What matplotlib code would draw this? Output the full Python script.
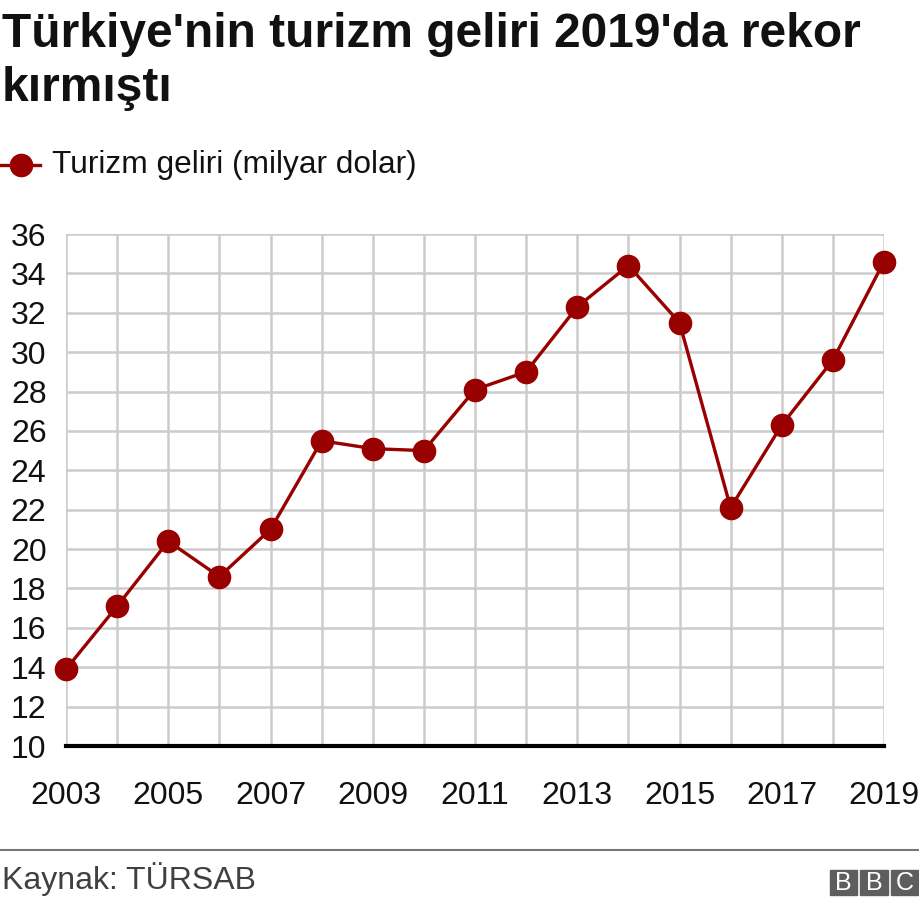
import numpy as np
import matplotlib
matplotlib.use("Agg")
import matplotlib.pyplot as plt
from matplotlib.patches import Rectangle

plt.rcParams['font.family'] = ['Liberation Sans', 'DejaVu Sans']

years = [2003, 2004, 2005, 2006, 2007, 2008, 2009, 2010, 2011,
         2012, 2013, 2014, 2015, 2016, 2017, 2018, 2019]
gelir = [13.9, 17.1, 20.4, 18.6, 21.0, 25.5, 25.1, 25.0, 28.1,
         29.0, 32.3, 34.4, 31.5, 22.1, 26.3, 29.6, 34.6]
yticks = list(range(10, 37, 2))
xlabels = [2003, 2005, 2007, 2009, 2011, 2013, 2015, 2017, 2019]

red = "#990000"
W, H = 920, 906

def fx(px):
    return px / W

def fy(py):
    return 1 - py / H

fig = plt.figure(figsize=(9.2, 9.06), dpi=100)
ax = fig.add_axes([fx(66), fy(746), (884 - 66) / W, (746 - 234) / H])

ax.plot(years, gelir, color=red, lw=2.4, marker='o', ms=16, mec=red, mfc=red,
        zorder=3, clip_on=False)

ax.set_xlim(2003, 2019)
ax.set_ylim(10, 36)
ax.set_xticks(years)
ax.set_xticklabels([str(y) if y in xlabels else "" for y in years])
ax.set_yticks(yticks)
ax.grid(True, color="#cccccc", lw=1.8)
ax.set_axisbelow(True)
for s in ax.spines.values():
    s.set_visible(False)
ax.axhline(10, color="black", lw=3, zorder=2, clip_on=False)
ax.tick_params(length=0, labelsize=23, colors="#111111")
ax.tick_params(axis='y', pad=14)
ax.tick_params(axis='x', pad=25)

# title
fig.text(fx(2), fy(47), "Türkiye'nin turizm geliri 2019'da rekor", fontsize=34.5,
         fontweight='bold', va='baseline', ha='left', color="#111111")
fig.text(fx(2), fy(101), "kırmıştı", fontsize=34.5,
         fontweight='bold', va='baseline', ha='left', color="#111111")

# legend
fig.lines.append(plt.Line2D([fx(0), fx(40)], [fy(165), fy(165)], color=red, lw=2.4,
                            transform=fig.transFigure))
fig.lines.append(plt.Line2D([fx(21)], [fy(165)], color=red, marker='o', ms=16,
                            transform=fig.transFigure))
fig.text(fx(52), fy(165), "Turizm geliri (milyar dolar)", fontsize=22.8, va='center',
         ha='left', color="#111111")

# footer
fig.lines.append(plt.Line2D([0, 1], [fy(850), fy(850)], color="#777777", lw=1.5,
                            transform=fig.transFigure))
fig.text(fx(2), fy(889), "Kaynak: TÜRSAB", fontsize=23, va='baseline', ha='left',
         color="#404040")

# BBC blocks
for i, ch in enumerate("BBC"):
    x0 = 830 + i * 30.5
    fig.patches.append(Rectangle((fx(x0), fy(895)), 27.5 / W, 25 / H, color="#5e5e5e",
                                 transform=fig.transFigure))
    fig.text(fx(x0 + 13.75), fy(882.5), ch, fontsize=18, color="white",
             ha='center', va='center')

fig.savefig("out.png", dpi=100)
